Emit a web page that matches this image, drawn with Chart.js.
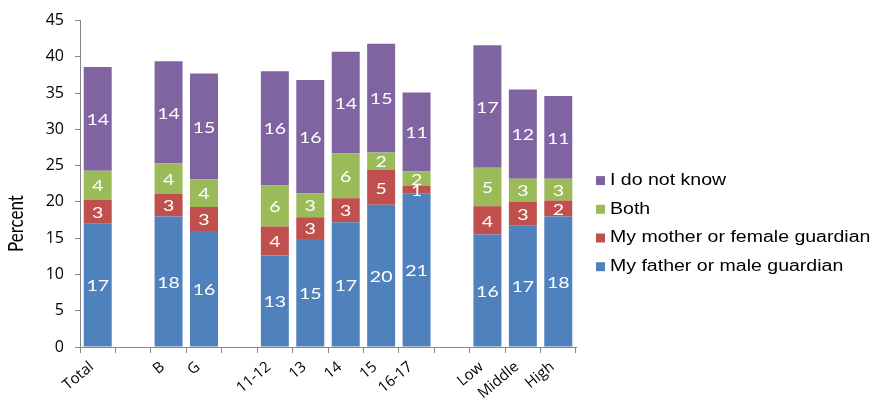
<!DOCTYPE html>
<html><head><meta charset="utf-8">
<script src="https://cdn.jsdelivr.net/npm/chart.js@4.4.1/dist/chart.umd.min.js"></script>
<style>html,body{margin:0;padding:0;background:#fff}#wrap{width:876px;height:403px;position:relative}</style>
</head><body><div id="wrap"><canvas id="c"></canvas></div>
<script>
const categories = ['Total','','B','G','','11-12','13','14','15','16-17','','Low','Middle','High'];
const fatherMale   = [17.0,null,18.0,16.0,null,12.6,14.9,17.2,19.6,21.2,null,15.5,16.8,18.0];
const motherFemale = [3.3,null,3.1,3.3,null,4.0,3.0,3.3,4.8,1.0,null,3.9,3.2,2.2];
const both         = [4.0,null,4.2,3.8,null,5.7,3.3,6.2,2.4,2.0,null,5.3,3.2,3.0];
const doNotKnow    = [14.3,null,14.1,14.6,null,15.7,15.6,14.0,15.0,10.9,null,16.9,12.3,11.4];
const seriesNames  = ['My father or male guardian','My mother or female guardian','Both','I do not know'];
const seriesColors = ['#4F81BD','#C0504D','#9BBB59','#8064A2'];
const yAxisTitle = 'Percent';

const STRETCH = 1.22;
const AXIS_COLOR = '#868686';

const segLabels = {
  id: 'segLabels',
  afterDatasetsDraw(chart) {
    const ctx = chart.ctx;
    ctx.save();
    ctx.fillStyle = '#fff';
    ctx.font = '16px Lato';
    ctx.textAlign = 'center';
    ctx.textBaseline = 'middle';
    chart.data.datasets.forEach((ds, i) => {
      const meta = chart.getDatasetMeta(i);
      meta.data.forEach((bar, j) => {
        const v = ds.data[j];
        if (v == null) return;
        const p = bar.getProps(['x', 'y', 'base'], true);
        const cy = (p.y + p.base) / 2;
        ctx.save();
        ctx.translate(p.x, cy + 1);
        ctx.scale(STRETCH, 1);
        ctx.fillText(String(Math.round(v)), 0, 0);
        ctx.restore();
      });
    });
    ctx.restore();
  }
};

const sideLegend = {
  id: 'sideLegend',
  afterDraw(chart) {
    const ctx = chart.ctx;
    const area = chart.chartArea;
    const x0 = area.right + 20;
    const y0 = area.top + 160;
    const step = 28.7;
    ctx.save();
    ctx.font = '16px "Liberation Sans", Arial, sans-serif';
    ctx.textBaseline = 'middle';
    ctx.textAlign = 'left';
    const ds = chart.data.datasets;
    for (let k = 0; k < ds.length; k++) {
      const d = ds[ds.length - 1 - k];
      const y = y0 + k * step;
      ctx.fillStyle = d.backgroundColor;
      ctx.fillRect(x0, y - 4.5, 9, 9);
      ctx.fillStyle = '#000';
      ctx.save();
      ctx.translate(x0 + 14, y);
      ctx.scale(STRETCH, 1);
      ctx.fillText(d.label, 0, 0);
      ctx.restore();
    }
    // y axis title
    ctx.save();
    ctx.fillStyle = '#000';
    ctx.font = '17px Lato';
    ctx.textAlign = 'center';
    ctx.textBaseline = 'middle';
    ctx.translate(16, area.top + 203);
    ctx.scale(STRETCH, 1);
    ctx.rotate(-Math.PI / 2);
    ctx.fillText(yAxisTitle, 0, 0);
    ctx.restore();
    ctx.restore();
  }
};

const seriesData = [fatherMale, motherFemale, both, doNotKnow];
new Chart(document.getElementById('c'), {
  type: 'bar',
  data: {
    labels: categories,
    datasets: seriesData.map((d, i) => ({
      label: seriesNames[i],
      data: d,
      backgroundColor: seriesColors[i],
      borderWidth: 0,
      categoryPercentage: 0.79,
      barPercentage: 1.0
    }))
  },
  options: {
    responsive: true,
    maintainAspectRatio: false,
    animation: false,
    layout: { padding: { top: 17, right: 300, left: 0, bottom: 0 } },
    plugins: { legend: { display: false }, tooltip: { enabled: false } },
    scales: {
      x: {
        stacked: true,
        afterFit(s) { s.height = 56; },
        border: { display: true, color: AXIS_COLOR, width: 1 },
        grid: { drawOnChartArea: false, drawTicks: true, tickLength: 6, color: AXIS_COLOR, offset: true },
        ticks: {
          autoSkip: false, minRotation: 40, maxRotation: 40, padding: 5, labelOffset: -6,
          color: '#000', font: { family: 'Open Sans', size: 15 }
        }
      },
      y: {
        stacked: true,
        min: 0, max: 45,
        afterFit(s) { s.width = 80; },
        border: { display: true, color: AXIS_COLOR, width: 1 },
        grid: { drawOnChartArea: false, drawTicks: true, tickLength: 5, color: AXIS_COLOR },
        ticks: {
          stepSize: 5, padding: 11, color: '#000',
          font: { family: 'Open Sans', size: 16 }
        }
      }
    }
  },
  plugins: [segLabels, sideLegend]
});
</script>
</body></html>
